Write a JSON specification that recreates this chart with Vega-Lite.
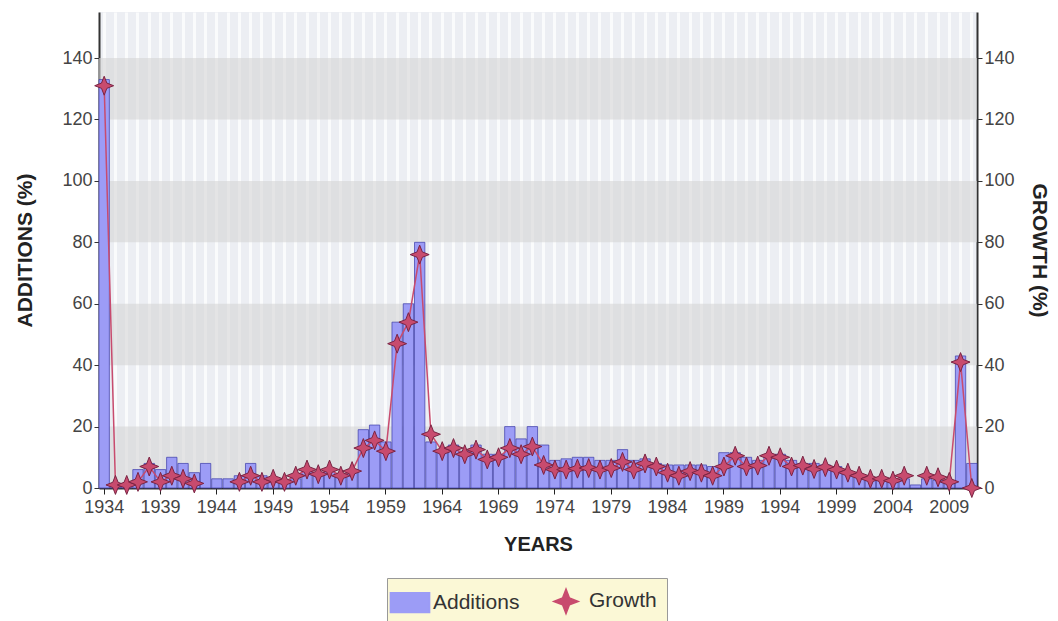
{
  "$schema": "https://vega.github.io/schema/vega-lite/v6.json",
  "width": 878,
  "height": 476,
  "autosize": "none",
  "padding": {"left": 99, "top": 12, "right": 81, "bottom": 133},
  "background": "white",
  "config": {"font": "Liberation Sans", "view": {"fill": "#eceef3", "stroke": null}},
  "datasets": {
    "bands": [{"lo": 0, "hi": 20}, {"lo": 40, "hi": 60}, {"lo": 80, "hi": 100}, {"lo": 120, "hi": 140}],
    "main": [
      {"year": 1934, "additions": 133, "growth": 131},
      {"year": 1935, "additions": 0.5, "growth": 1},
      {"year": 1936, "additions": 0.5, "growth": 1},
      {"year": 1937, "additions": 6, "growth": 2},
      {"year": 1938, "additions": 8, "growth": 7},
      {"year": 1939, "additions": 6, "growth": 2},
      {"year": 1940, "additions": 10, "growth": 4},
      {"year": 1941, "additions": 8, "growth": 3},
      {"year": 1942, "additions": 5, "growth": 1.5},
      {"year": 1943, "additions": 8, "growth": null},
      {"year": 1944, "additions": 3, "growth": null},
      {"year": 1945, "additions": 3, "growth": null},
      {"year": 1946, "additions": 4, "growth": 2},
      {"year": 1947, "additions": 8, "growth": 4},
      {"year": 1948, "additions": 4, "growth": 2},
      {"year": 1949, "additions": 3, "growth": 3},
      {"year": 1950, "additions": 2, "growth": 2},
      {"year": 1951, "additions": 3, "growth": 4},
      {"year": 1952, "additions": 6, "growth": 6},
      {"year": 1953, "additions": 4, "growth": 4.5},
      {"year": 1954, "additions": 6, "growth": 6},
      {"year": 1955, "additions": 4, "growth": 4},
      {"year": 1956, "additions": 6, "growth": 5.5},
      {"year": 1957, "additions": 19, "growth": 13},
      {"year": 1958, "additions": 20.5, "growth": 15.5},
      {"year": 1959, "additions": 15, "growth": 12},
      {"year": 1960, "additions": 54, "growth": 47},
      {"year": 1961, "additions": 60, "growth": 54},
      {"year": 1962, "additions": 80, "growth": 76},
      {"year": 1963, "additions": 15, "growth": 17.5},
      {"year": 1964, "additions": 12, "growth": 12},
      {"year": 1965, "additions": 14, "growth": 13},
      {"year": 1966, "additions": 12, "growth": 11},
      {"year": 1967, "additions": 14, "growth": 12.5},
      {"year": 1968, "additions": 11, "growth": 9.3},
      {"year": 1969, "additions": 11, "growth": 10},
      {"year": 1970, "additions": 20, "growth": 13},
      {"year": 1971, "additions": 16, "growth": 11},
      {"year": 1972, "additions": 20, "growth": 13.5},
      {"year": 1973, "additions": 14, "growth": 7.5},
      {"year": 1974, "additions": 9, "growth": 6},
      {"year": 1975, "additions": 9.5, "growth": 6},
      {"year": 1976, "additions": 10, "growth": 6.3},
      {"year": 1977, "additions": 10, "growth": 6.5},
      {"year": 1978, "additions": 9, "growth": 6},
      {"year": 1979, "additions": 9, "growth": 6.5},
      {"year": 1980, "additions": 12.5, "growth": 8.5},
      {"year": 1981, "additions": 9, "growth": 6},
      {"year": 1982, "additions": 9.5, "growth": 8},
      {"year": 1983, "additions": 8, "growth": 7},
      {"year": 1984, "additions": 7.5, "growth": 5},
      {"year": 1985, "additions": 7.5, "growth": 4},
      {"year": 1986, "additions": 7.5, "growth": 5.5},
      {"year": 1987, "additions": 7.5, "growth": 5},
      {"year": 1988, "additions": 7, "growth": 4},
      {"year": 1989, "additions": 11.5, "growth": 7},
      {"year": 1990, "additions": 11.5, "growth": 10.5},
      {"year": 1991, "additions": 10, "growth": 7},
      {"year": 1992, "additions": 9, "growth": 7.3},
      {"year": 1993, "additions": 10, "growth": 10.5},
      {"year": 1994, "additions": 11, "growth": 10},
      {"year": 1995, "additions": 9, "growth": 7},
      {"year": 1996, "additions": 8, "growth": 7.3},
      {"year": 1997, "additions": 8, "growth": 6.2},
      {"year": 1998, "additions": 7.5, "growth": 6.8},
      {"year": 1999, "additions": 7, "growth": 6},
      {"year": 2000, "additions": 5, "growth": 5},
      {"year": 2001, "additions": 3.5, "growth": 4},
      {"year": 2002, "additions": 3, "growth": 3},
      {"year": 2003, "additions": 3, "growth": 3},
      {"year": 2004, "additions": 3, "growth": 2.4},
      {"year": 2005, "additions": 3, "growth": 4},
      {"year": 2006, "additions": 1, "growth": null},
      {"year": 2007, "additions": 3, "growth": 4},
      {"year": 2008, "additions": 2.5, "growth": 3.5},
      {"year": 2009, "additions": 1.5, "growth": 2},
      {"year": 2010, "additions": 43, "growth": 41},
      {"year": 2011, "additions": 8, "growth": 0}
    ]
  },
  "data": {"name": "main"},
  "resolve": {"scale": {"y": "independent"}},
  "layer": [
    {
      "data": {"name": "bands"},
      "mark": {"type": "rect", "fill": "#d6d6d6", "opacity": 0.6},
      "encoding": {
        "y": {"field": "lo", "type": "quantitative", "scale": {"domain": [0, 155], "nice": false}, "axis": null},
        "y2": {"field": "hi"}
      }
    },
    {
      "mark": {"type": "bar", "stroke": "#3a3aa8", "strokeWidth": 1, "strokeOpacity": 0.7},
      "encoding": {
        "x": {
          "field": "year", "type": "ordinal",
          "scale": {"paddingInner": 0.08, "paddingOuter": 0},
          "axis": {
            "title": "YEARS", "titleFontSize": 20, "titleFontWeight": "bold", "titleColor": "#222", "titlePadding": 18,
            "labelAngle": 0, "labelFontSize": 18, "labelColor": "#444", "labelPadding": 4,
            "labelExpr": "datum.value % 5 == 4 ? datum.label : ''",
            "tickOpacity": {"condition": {"test": "datum.value % 5 == 4", "value": 1}, "value": 0},
            "tickColor": "#222", "tickSize": 6, "domainColor": "#333", "domainWidth": 2,
            "grid": true, "gridColor": "#ffffff", "gridWidth": 3, "gridOpacity": 0.75
          }
        },
        "y": {
          "field": "additions", "type": "quantitative",
          "scale": {"domain": [0, 155], "nice": false},
          "axis": {
            "orient": "left", "title": "ADDITIONS (%)", "titleFontSize": 21, "titleFontWeight": "bold", "titleColor": "#222", "titlePadding": 26,
            "values": [0, 20, 40, 60, 80, 100, 120, 140], "labelFontSize": 18, "labelColor": "#444",
            "tickColor": "#333", "tickSize": 5, "domainColor": "#333", "domainWidth": 2, "grid": false
          }
        },
        "color": {
          "datum": "Additions", "type": "nominal",
          "scale": {"domain": ["Additions", "Growth"], "range": ["#9c9cf6", "#c84b6e"]},
          "legend": {
            "orient": "none", "legendX": 288, "legendY": 566, "direction": "horizontal", "title": null,
            "fillColor": "#fbf8d6", "strokeColor": "#999999", "padding": 10,
            "labelFontSize": 21, "labelColor": "#333", "symbolSize": 600,
            "symbolStrokeColor": "#222", "symbolStrokeWidth": 1.5,
            "columnPadding": 30, "labelOffset": 10
          }
        }
      }
    },
    {
      "layer": [
        {
          "mark": {"type": "line", "strokeWidth": 1.5},
          "encoding": {
            "x": {"field": "year", "type": "ordinal"},
            "y": {
              "field": "growth", "type": "quantitative",
              "scale": {"domain": [0, 155], "nice": false},
              "axis": {
                "orient": "right", "title": "GROWTH (%)", "titleAngle": 90, "titleFontSize": 21, "titleFontWeight": "bold", "titleColor": "#222", "titlePadding": 14,
                "values": [0, 20, 40, 60, 80, 100, 120, 140], "labelFontSize": 18, "labelColor": "#444",
                "tickColor": "#333", "tickSize": 5, "domainColor": "#333", "domainWidth": 2, "grid": false
              }
            },
            "color": {"datum": "Growth", "type": "nominal"}
          }
        },
        {
          "mark": {"type": "point", "filled": true, "size": 360, "stroke": "#7a2444", "strokeWidth": 1, "opacity": 1},
          "encoding": {
            "x": {"field": "year", "type": "ordinal"},
            "y": {"field": "growth", "type": "quantitative"},
            "color": {"datum": "Growth", "type": "nominal"},
            "shape": {
              "datum": "Growth", "type": "nominal",
              "scale": {"domain": ["Additions", "Growth"], "range": ["M-1.6,-0.8H1.6V0.8H-1.6Z", "M0,-1L0.28,-0.28L1,0L0.28,0.28L0,1L-0.28,0.28L-1,0L-0.28,-0.28Z"]},
              "legend": null
            }
          }
        }
      ]
    }
  ]
}
